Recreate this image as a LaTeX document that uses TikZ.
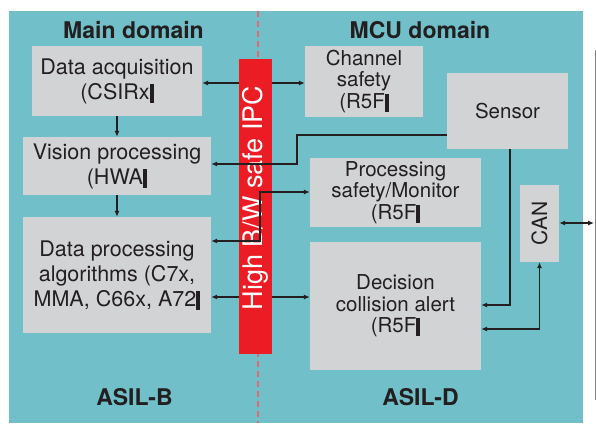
\documentclass[tikz,border=0pt]{standalone}
\usepackage{fontspec}
\setmainfont{TeX Gyre Heros}
\usetikzlibrary{arrows.meta}
\definecolor{bgteal}{HTML}{70BFC9}
\definecolor{boxgrey}{HTML}{D2D3D5}
\definecolor{ipcred}{HTML}{EC1C24}
\definecolor{inkdark}{HTML}{231F20}
\definecolor{dashpink}{HTML}{D86C78}
\newcommand{\pbar}{\rule[-0.17em]{0.19em}{0.88em}}

\begin{document}
\begin{tikzpicture}[x=1pt,y=-1pt,
  >={Latex[length=6pt,width=5pt]},
  block/.style={fill=boxgrey,align=center,text=inkdark,inner sep=0pt},
  left block/.style={block,font=\fontsize{21.5}{25}\selectfont},
  right block/.style={block,font=\fontsize{20.5}{21.5}\selectfont},
  title/.style={font=\fontsize{23}{25}\selectfont\bfseries,text=inkdark},
  link/.style={draw=inkdark,line width=1.1pt}]

  \useasboundingbox (0,0) rectangle (596,423);
  \fill[bgteal] (9,11) rectangle (583,423);
  \draw[dashpink,line width=1.2pt,dash pattern=on 6pt off 4pt] (258,11) -- (258,423);

  % main domain
  \node[title] (maintitle) at (133.5,30) {Main domain};
  \node[left block,minimum width=170pt,minimum height=70pt] (acq) at (117,81) {Data acquisition\\(CSIRx\pbar};
  \node[left block,minimum width=188pt,minimum height=58pt] (vision) at (117,166) {Vision processing\\(HWA\pbar};
  \node[left block,minimum width=188pt,minimum height=116pt] (algo) at (117,275) {Data processing\\algorithms (C7x,\\MMA, C66x, A72\pbar};
  \node[title] (asilb) at (134.5,397) {ASIL-B};

  % mcu domain
  \node[title] (mcutitle) at (420,30) {MCU domain};
  \node[right block,minimum width=118pt,minimum height=71pt] (chan) at (364,81.5) {Channel\\safety\\(R5F\pbar};
  \node[right block,minimum width=121pt,minimum height=76pt] (sensor) at (507.5,111) {Sensor};
  \node[right block,minimum width=171pt,minimum height=69pt] (monitor) at (395.5,192.5) {Processing\\safety/Monitor\\(R5F\pbar};
  \node[right block,minimum width=171pt,minimum height=128pt] (decision) at (395.5,306) {Decision\\collision alert\\(R5F\pbar};
  \node[right block,minimum width=39pt,minimum height=77pt,font=\fontsize{21}{23}\selectfont] (can) at (539.5,223.5) {\rotatebox{90}{CAN}};
  \node[title] (asild) at (420.5,397) {ASIL-D};

  \coordinate (canout) at (594,223);
  \draw[gray,line width=0.8pt] (595,50) -- (595,400);

  % links under the IPC bar
  \draw[link,<->] (acq.east |- 0,83) -- (chan.west |- 0,83);
  \draw[link,<->] (algo.east |- 0,297) -- (decision.west |- 0,297);

  \node[fill=ipcred,minimum width=33pt,minimum height=295pt,inner sep=0pt] (ipc) at (255.5,206.5) {};
  \node[rotate=90,text=white,font=\fontsize{27}{30}\selectfont] (ipctext) at (255.5,198) {High B/W safe IPC};

  % links over the IPC bar
  \draw[link,->] (sensor.west |- 0,135) -| (297,164) -- (vision.east |- 0,164);
  \draw[link,<->] (algo.east |- 0,241) -| (260,192) -- (monitor.west |- 0,192);
  \draw[link,->] (510,0 |- sensor.south) |- (decision.east |- 0,305);
  \draw[link,<->] (decision.east |- 0,329) -| (can.south);
  \draw[link,<->] (can.east |- 0,223) -- (canout);
  \draw[link,->] (acq) -- (vision);
  \draw[link,->] (vision) -- (algo);
\end{tikzpicture}
\end{document}
